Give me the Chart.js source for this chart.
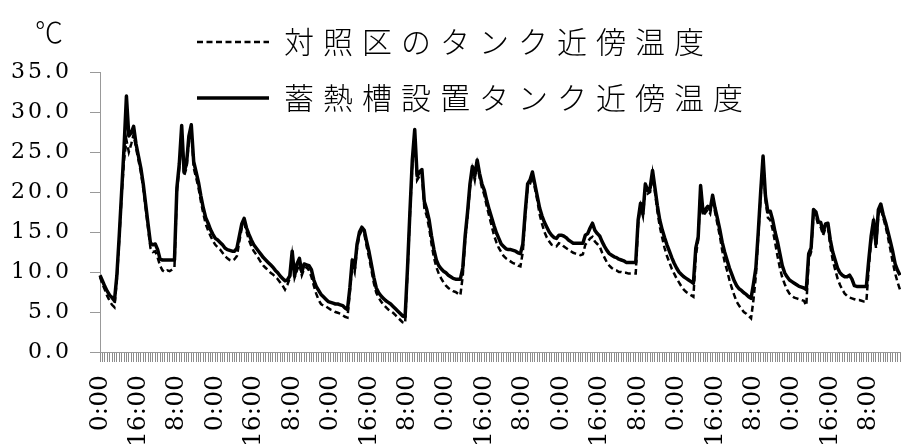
<!DOCTYPE html>
<html><head><meta charset="utf-8">
<script src="https://cdn.jsdelivr.net/npm/chart.js@4.4.1/dist/chart.umd.min.js"></script>
<style>html,body{margin:0;padding:0;background:#fff;}canvas{display:block;}</style>
</head><body>
<canvas id="c" width="901" height="448"></canvas>
<script>
const seriesNames = ['対照区のタンク近傍温度', '蓄熱槽設置タンク近傍温度'];
const unitLabel = '℃';
// hourly readings, 0:00 of day 1 onwards
const control = [
 9.4, 8.5, 7.8, 7.0, 6.4, 5.9, 5.6, 9.0, 14.0, 19.5,
 24.0, 26.5, 25.0, 26.0, 27.2, 25.5, 24.0, 22.5, 20.5, 18.0,
 15.5, 13.0, 12.5, 12.6, 11.8, 10.8, 10.2, 10.0, 10.2, 10.1,
 10.3, 10.6, 20.0, 23.0, 27.5, 22.0, 23.0, 26.5, 27.8, 23.0,
 21.8, 20.5, 18.8, 17.3, 16.0, 15.2, 14.5, 13.9, 13.4, 13.1,
 12.8, 12.4, 12.0, 11.7, 11.5, 11.4, 11.6, 12.0, 13.8, 15.5,
 16.1, 15.0, 14.0, 13.2, 12.6, 12.2, 11.7, 11.2, 10.8, 10.5,
 10.2, 9.9, 9.7, 9.4, 9.1, 8.7, 8.3, 7.8, 8.4, 9.2,
 12.0, 9.3, 10.2, 11.0, 9.6, 10.4, 10.6, 10.2, 9.4, 8.3,
 7.3, 6.5, 6.0, 5.8, 5.7, 5.5, 5.3, 5.2, 5.0, 4.9,
 4.8, 4.6, 4.4, 4.3, 7.5, 11.0, 10.0, 13.0, 14.6, 15.2,
 14.8, 13.2, 11.8, 10.2, 8.6, 7.4, 6.8, 6.3, 5.9, 5.6,
 5.3, 5.1, 4.9, 4.6, 4.3, 4.0, 3.7, 3.6, 10.0, 17.0,
 23.5, 27.0, 21.5, 22.0, 22.2, 18.0, 17.0, 15.5, 13.5, 11.8,
 10.6, 9.8, 9.2, 8.7, 8.3, 8.0, 7.8, 7.6, 7.5, 7.3,
 7.1, 9.5, 14.0, 17.0, 20.5, 22.8, 21.5, 23.5, 21.8, 20.5,
 19.6, 18.2, 17.0, 15.8, 14.6, 13.7, 13.0, 12.5, 12.0, 11.7,
 11.5, 11.3, 11.1, 11.0, 10.8, 10.7, 12.5, 17.0, 20.5, 21.0,
 22.0, 20.5, 19.0, 17.2, 16.0, 15.0, 14.3, 13.8, 13.4, 13.3,
 13.2, 13.6, 13.5, 13.2, 13.0, 12.8, 12.6, 12.4, 12.3, 12.2,
 12.1, 12.2, 13.4, 13.8, 14.2, 14.4, 13.8, 13.5, 13.2, 12.4,
 11.8, 11.2, 10.8, 10.5, 10.3, 10.2, 10.0, 10.0, 9.9, 9.9,
 9.8, 9.8, 9.8, 9.8, 16.0, 18.2, 17.0, 20.6, 19.8, 20.0,
 22.3, 20.0, 17.6, 15.7, 14.3, 13.0, 12.0, 11.2, 10.4, 9.8,
 9.2, 8.7, 8.2, 7.8, 7.5, 7.3, 7.1, 6.9, 12.0, 14.0,
 20.5, 17.0, 17.4, 17.8, 17.3, 19.2, 17.5, 16.0, 14.5, 12.7,
 11.3, 10.2, 9.0, 8.0, 7.1, 6.3, 5.8, 5.4, 5.0, 4.8,
 4.5, 4.2, 6.5, 9.5, 14.5, 19.5, 24.0, 19.0, 16.8, 16.5,
 15.3, 13.7, 12.0, 10.5, 9.3, 8.5, 7.8, 7.3, 7.0, 6.8,
 6.7, 6.6, 6.5, 6.4, 5.8, 11.5, 12.5, 17.2, 17.0, 15.8,
 15.6, 14.6, 15.5, 15.6, 13.2, 11.5, 10.3, 9.2, 8.4, 7.8,
 7.3, 7.0, 6.8, 6.7, 6.6, 6.5, 6.5, 6.4, 6.3, 6.3,
 10.5, 14.0, 16.0, 13.0, 17.2, 18.0, 16.8, 15.7, 14.3, 12.8,
 11.2, 9.8, 8.7, 7.8
];
const storage = [
 9.6, 8.9, 8.2, 7.6, 7.1, 6.8, 6.4, 9.5, 14.5, 20.0,
 25.5, 32.0, 27.0, 27.4, 28.2, 26.0, 24.5, 23.0, 21.0, 18.5,
 16.0, 13.6, 13.4, 13.5, 12.8, 11.6, 11.5, 11.5, 11.5, 11.5,
 11.5, 11.5, 20.5, 23.5, 28.3, 22.5, 23.5, 27.0, 28.4, 23.8,
 22.5, 21.2, 19.5, 18.0, 16.8, 16.1, 15.3, 14.7, 14.2, 14.0,
 13.7, 13.4, 13.0, 12.8, 12.7, 12.6, 12.6, 13.0, 14.5, 16.0,
 16.7, 15.5, 14.7, 14.0, 13.4, 13.0, 12.6, 12.2, 11.8, 11.5,
 11.2, 10.9, 10.6, 10.2, 9.9, 9.5, 9.2, 8.9, 9.0, 9.5,
 12.6, 9.5, 11.0, 11.7, 10.0, 11.0, 10.9, 10.8, 10.3, 9.0,
 8.2, 7.7, 7.2, 6.9, 6.6, 6.3, 6.2, 6.1, 6.0, 6.0,
 5.9, 5.8, 5.5, 5.3, 8.0, 11.5, 10.5, 13.5, 15.0, 15.6,
 15.2, 13.8, 12.5, 10.9, 9.3, 8.0, 7.4, 7.0, 6.7, 6.4,
 6.2, 6.0, 5.7, 5.4, 5.1, 4.8, 4.5, 4.4, 10.5, 17.5,
 24.0, 27.8, 22.0, 22.5, 22.8, 18.8, 17.8, 16.5, 14.5, 12.8,
 11.5, 10.8, 10.4, 10.1, 9.9, 9.6, 9.4, 9.2, 9.1, 9.1,
 9.1, 10.5, 14.5, 17.5, 21.0, 23.2, 22.0, 24.0, 22.3, 21.0,
 20.2, 18.9, 17.8, 16.8, 15.8, 14.9, 14.2, 13.5, 13.2, 12.9,
 12.8, 12.8, 12.7, 12.6, 12.4, 12.3, 13.5, 17.5, 21.0, 21.5,
 22.5, 21.0, 19.5, 18.0, 17.0, 16.2, 15.6, 15.0, 14.6, 14.3,
 14.2, 14.6, 14.6, 14.5, 14.3, 14.0, 13.8, 13.6, 13.6, 13.6,
 13.6, 13.6, 14.6, 14.8, 15.5, 16.1, 15.2, 14.8, 14.5, 13.8,
 13.2, 12.7, 12.3, 12.1, 11.9, 11.8, 11.6, 11.5, 11.4, 11.2,
 11.2, 11.2, 11.2, 11.2, 16.5, 18.6, 17.3, 21.0, 20.2, 20.5,
 22.7, 20.5, 18.3, 16.5, 15.3, 14.3, 13.4, 12.6, 11.8, 11.1,
 10.5, 10.0, 9.7, 9.4, 9.2, 9.0, 8.8, 8.6, 13.0, 14.4,
 20.8, 17.5, 17.8, 18.2, 17.8, 19.6, 18.0, 16.7, 15.3, 13.7,
 12.5, 11.5, 10.5, 9.7, 8.9, 8.3, 7.9, 7.7, 7.4, 7.2,
 6.9, 6.7, 8.5, 10.5, 15.0, 20.0, 24.5, 19.5, 17.5, 17.6,
 16.5, 15.0, 13.8, 12.3, 10.8, 9.9, 9.4, 9.0, 8.8, 8.6,
 8.4, 8.2, 8.1, 8.0, 7.8, 12.3, 13.0, 17.8, 17.5, 16.3,
 16.2, 15.0, 16.0, 16.1, 14.0, 12.5, 11.5, 10.5, 9.9, 9.6,
 9.4, 9.4, 9.6, 9.1, 8.3, 8.2, 8.2, 8.2, 8.2, 8.2,
 11.5, 14.5, 16.5, 13.5, 17.8, 18.5, 17.2, 16.2, 15.0, 13.8,
 12.5, 11.0, 10.2, 9.6
];
const hourLabels = control.map((_, i) => (i % 24) + ':00');
const labelEvery = 16;

function withSpacing(obj, method, spacing) {
  const key = '__sp_' + method;
  if (!obj || obj[key]) return;
  const orig = obj[method];
  obj[method] = function () {
    const ctx = this.ctx;
    ctx.save();
    ctx.letterSpacing = spacing;
    try { return orig.apply(this, arguments); } finally { ctx.restore(); }
  };
  obj[key] = true;
}

const tweaks = {
  id: 'tweaks',
  afterLayout(chart) {
    const lg = chart.legend;
    if (lg) {
      lg.left = 171; lg.top = 1; lg.right = 901; lg.bottom = 200;
      lg.width = lg.right - lg.left; lg.height = lg.bottom - lg.top;
      withSpacing(lg, 'draw', '9px');
    }
    const tb = chart.titleBlock;
    if (tb) { tb.left = 35; }
    withSpacing(chart.scales.y, 'drawLabels', '3px');
  }
};

const serif = "'DejaVu Serif', 'Liberation Serif', serif";
const cjk = "'Noto Sans CJK JP', sans-serif";

new Chart(document.getElementById('c'), {
  type: 'line',
  data: {
    labels: hourLabels,
    datasets: [
      { label: seriesNames[0], data: control, borderColor: '#000', backgroundColor: '#000',
        borderWidth: 2.5, borderDash: [6, 3.5], pointRadius: 0, tension: 0, fill: false, order: 1 },
      { label: seriesNames[1], data: storage, borderColor: '#000', backgroundColor: '#000',
        borderWidth: 3.5, pointRadius: 0, tension: 0, fill: false, order: 0, borderJoinStyle: 'round' }
    ]
  },
  options: {
    responsive: false, animation: false, devicePixelRatio: 1,
    layout: { padding: { left: 0, right: 1, top: 0, bottom: 0 } },
    plugins: {
      tooltip: { enabled: false },
      title: { display: true, text: unitLabel, align: 'start', color: '#000',
        font: { family: cjk, size: 28, weight: '300', lineHeight: 1.2 },
        padding: { top: 16, bottom: 22.4 } },
      legend: {
        position: 'chartArea', align: 'start',
        labels: {
          color: '#000', font: { family: cjk, size: 30, weight: '300' },
          usePointStyle: true, pointStyle: 'line', pointStyleWidth: 72, padding: 26,
          sort: (a, b) => a.datasetIndex - b.datasetIndex,
          generateLabels(chart) {
            const items = Chart.defaults.plugins.legend.labels.generateLabels(chart);
            items.forEach(it => {
              const ds = chart.data.datasets[it.datasetIndex];
              it.lineDash = ds.borderDash || [];
              it.lineWidth = ds.borderWidth;
              it.strokeStyle = ds.borderColor;
              it.pointStyle = 'line';
            });
            return items;
          }
        }
      }
    },
    scales: {
      x: {
        type: 'category', offset: false,
        grid: { drawOnChartArea: false, drawTicks: true, tickLength: 10, color: '#8c8c8c', lineWidth: 1 },
        border: { display: true, color: '#999', width: 1 },
        ticks: { autoSkip: false, maxRotation: 90, minRotation: 90, padding: 13, color: '#000',
          font: { family: serif, size: 25 },
          callback: (v, i) => (i % labelEvery === 0 ? hourLabels[i] : '') },
        afterFit(s) { s.height = 96; s.paddingLeft = 0; s.paddingRight = 0; }
      },
      y: {
        min: 0, max: 35,
        grid: { drawOnChartArea: false, tickLength: 10, color: '#999' },
        border: { color: '#999' },
        ticks: { stepSize: 5, padding: 18, color: '#000', font: { family: serif, size: 22 },
          callback: v => v.toFixed(1) },
        afterFit(s) { s.width = 100; s.paddingTop = 0; s.paddingBottom = 0; }
      }
    }
  },
  plugins: [tweaks]
});
</script>
</body></html>
